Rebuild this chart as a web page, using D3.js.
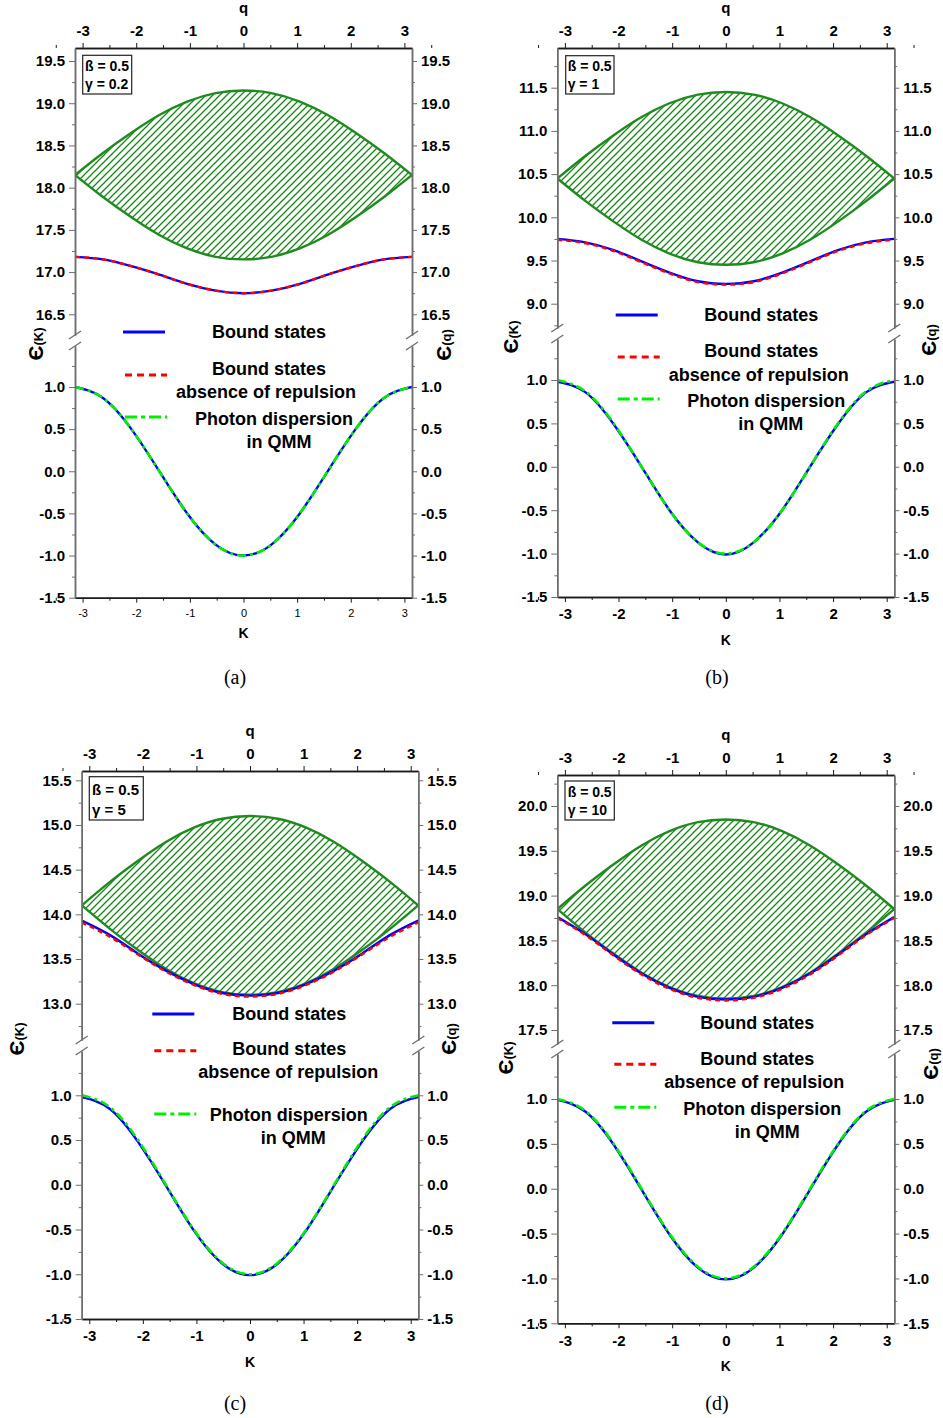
<!DOCTYPE html>
<html>
<head>
<meta charset="utf-8">
<title>Bound states vs QMM photon band</title>
<script src="https://d3js.org/d3.v7.min.js"></script>
<style>
  body { margin: 0; background: #fff; }
  svg text { font-family: Arial, "Liberation Sans", sans-serif; }
</style>
</head>
<body>
<script>
// ---- data ----
const K = [-3.14, -2.62, -2.09, -1.57, -1.05, -0.52, 0, 0.52, 1.05, 1.57, 2.09, 2.62, 3.14];
const xTicks = [-3, -2, -1, 0, 1, 2, 3];
const lowTicks = [-1.5, -1.0, -0.5, 0.0, 0.5, 1.0];
const photon = [1.00, 0.87, 0.50, 0.00, -0.50, -0.87, -1.00, -0.87, -0.50, 0.00, 0.50, 0.87, 1.00];

// (a) gamma = 0.2
const upTicksA = [16.5, 17.0, 17.5, 18.0, 18.5, 19.0, 19.5];
const bandTopA = [18.15, 18.41, 18.65, 18.86, 19.02, 19.12, 19.15, 19.12, 19.02, 18.86, 18.65, 18.41, 18.15];
const bandBotA = [18.15, 17.89, 17.65, 17.44, 17.28, 17.18, 17.15, 17.18, 17.28, 17.44, 17.65, 17.89, 18.15];
const boundA = [17.18, 17.15, 17.07, 16.97, 16.86, 16.78, 16.75, 16.78, 16.86, 16.97, 17.07, 17.15, 17.18];
const noRepA = [17.18, 17.15, 17.07, 16.97, 16.86, 16.78, 16.75, 16.78, 16.86, 16.97, 17.07, 17.15, 17.18];
const boundLowA = [1.00, 0.87, 0.50, 0.00, -0.50, -0.87, -1.00, -0.87, -0.50, 0.00, 0.50, 0.87, 1.00];

// (b) gamma = 1
const upTicksB = [9.0, 9.5, 10.0, 10.5, 11.0, 11.5];
const bandTopB = [10.45, 10.71, 10.95, 11.16, 11.32, 11.42, 11.45, 11.42, 11.32, 11.16, 10.95, 10.71, 10.45];
const bandBotB = [10.45, 10.19, 9.95, 9.74, 9.58, 9.48, 9.45, 9.48, 9.58, 9.74, 9.95, 10.19, 10.45];
const boundB = [9.75, 9.71, 9.62, 9.49, 9.36, 9.26, 9.23, 9.26, 9.36, 9.49, 9.62, 9.71, 9.75];
const noRepB = [9.74, 9.70, 9.61, 9.48, 9.35, 9.25, 9.22, 9.25, 9.35, 9.48, 9.61, 9.70, 9.74];
const boundLowB = [0.98, 0.86, 0.49, 0.00, -0.50, -0.87, -1.01, -0.87, -0.50, 0.00, 0.49, 0.86, 0.98];

// (c) gamma = 5
const upTicksC = [13.0, 13.5, 14.0, 14.5, 15.0, 15.5];
const bandTopC = [14.10, 14.36, 14.60, 14.81, 14.97, 15.07, 15.10, 15.07, 14.97, 14.81, 14.60, 14.36, 14.10];
const bandBotC = [14.10, 13.84, 13.60, 13.39, 13.23, 13.13, 13.10, 13.13, 13.23, 13.39, 13.60, 13.84, 14.10];
const boundC = [13.93, 13.77, 13.56, 13.37, 13.22, 13.12, 13.09, 13.12, 13.22, 13.37, 13.56, 13.77, 13.93];
const noRepC = [13.91, 13.75, 13.55, 13.36, 13.21, 13.11, 13.08, 13.11, 13.21, 13.36, 13.55, 13.75, 13.91];
const boundLowC = [0.98, 0.85, 0.48, -0.01, -0.51, -0.88, -1.01, -0.88, -0.51, -0.01, 0.48, 0.85, 0.98];

// (d) gamma = 10
const upTicksD = [17.5, 18.0, 18.5, 19.0, 19.5, 20.0];
const bandTopD = [18.85, 19.11, 19.35, 19.56, 19.72, 19.82, 19.85, 19.82, 19.72, 19.56, 19.35, 19.11, 18.85];
const bandBotD = [18.85, 18.59, 18.35, 18.14, 17.98, 17.88, 17.85, 17.88, 17.98, 18.14, 18.35, 18.59, 18.85];
const boundD = [18.76, 18.57, 18.34, 18.13, 17.97, 17.87, 17.84, 17.87, 17.97, 18.13, 18.34, 18.57, 18.76];
const noRepD = [18.75, 18.56, 18.33, 18.12, 17.96, 17.86, 17.83, 17.86, 17.96, 18.12, 18.33, 18.56, 18.75];
const boundLowD = [0.99, 0.86, 0.49, -0.01, -0.51, -0.88, -1.01, -0.88, -0.51, -0.01, 0.49, 0.86, 0.99];

// ---- layout per panel ----
const panels = [
  {tag: '(a)', beta: '0.5', gamma: '0.2', x0: 75, x1: 412, top: 48, brk1: 335, brk2: 346,
   up: [[16.5, 19.5], [314.3, 61]], low: [[-1.5, 1.0], [597.7, 387]],
   upTicks: upTicksA, bandTop: bandTopA, bandBot: bandBotA, bound: boundA, noRep: noRepA, boundLow: boundLowA,
   box: [82.7, 55.3, 49, 38.7, 85, 66, 84],
   leg: {x: 123, y: 332, dy: [37, 60, 43, 87, 110, 85], dx: [146, 146, 143, 151, 156]},
   yl: [37, 344, 445, 345], plain: true, cap: [235, 677]},
  {tag: '(b)', beta: '0.5', gamma: '1', x0: 557.3, x1: 894.3, top: 48, brk1: 328, brk2: 339,
   up: [[9.0, 11.5], [303.7, 87.7]], low: [[-1.5, 1.0], [597, 380]],
   upTicks: upTicksB, bandTop: bandTopB, bandBot: bandBotB, bound: boundB, noRep: noRepB, boundLow: boundLowB,
   box: [565.7, 55.7, 48.3, 38.3, 567.7, 66.3, 84.3],
   leg: {x: 615.7, y: 315, dy: [36, 60, 42, 85.7, 109, 84], dx: [145.6, 145.6, 143, 150.6, 155]},
   yl: [512, 337, 930, 340], plain: false, cap: [717, 677]},
  {tag: '(c)', beta: '0.5', gamma: '5', x0: 81.7, x1: 418.3, top: 771, brk1: 1040, brk2: 1051,
   up: [[13.0, 15.5], [1003.7, 780.3]], low: [[-1.5, 1.0], [1319, 1095.3]],
   upTicks: upTicksC, bandTop: bandTopC, bandBot: bandBotC, bound: boundC, noRep: noRepC, boundLow: boundLowC,
   box: [89.3, 776.7, 54, 43.3, 92, 790, 809.3],
   leg: {x: 152.3, y: 1014, dy: [35, 57.7, 36.7, 101, 124, 100], dx: [137, 137, 136, 136.5, 141]},
   yl: [18, 1039, 450, 1039], plain: false, cap: [235, 1403]},
  {tag: '(d)', beta: '0.5', gamma: '10', x0: 557.3, x1: 894.3, top: 775, brk1: 1044, brk2: 1054,
   up: [[17.5, 20.0], [1030, 806]], low: [[-1.5, 1.0], [1323.3, 1099]],
   upTicks: upTicksD, bandTop: bandTopD, bandBot: bandBotD, bound: boundD, noRep: noRepD, boundLow: boundLowD,
   box: [565, 781, 49.3, 39, 567.7, 792, 810],
   leg: {x: 612.3, y: 1022.7, dy: [36.3, 59, 41.6, 86.3, 109, 84.6], dx: [145, 145, 142, 150, 155]},
   yl: [507, 1058, 932, 1064], plain: false, cap: [717, 1403]}
];

const W = 943, H = 1418;
const frameDark = '#1a1a1a', frameGray = '#6e6e6e';
const svg = d3.select('body').append('svg').attr('width', W).attr('height', H);
const defs = svg.append('defs');

const hatch = defs.append('pattern').attr('id', 'hatch')
  .attr('patternUnits', 'userSpaceOnUse').attr('width', 7).attr('height', 7);
hatch.append('path').attr('d', 'M-1,1 L1,-1 M0,7 L7,0 M6,8 L8,6')
  .attr('stroke', '#128a12').attr('stroke-width', 1.3);

const fmtY = d => d.toFixed(1);
const fmtX = d => String(d);

function styleTicks(g, size, weight, color) {
  g.selectAll('text').attr('font-size', size).attr('font-weight', weight).attr('fill', '#000');
  g.selectAll('line').attr('stroke', color);
  g.select('.domain').attr('stroke', color).attr('stroke-width', 1.5);
}

function minorOf(ticks, step) {
  const out = [];
  ticks.forEach(t => out.push(t + step / 2));
  out.push(ticks[0] - step / 2);
  return out;
}

panels.forEach((p, pi) => {
  const g = svg.append('g');
  const x = d3.scaleLinear().domain([-Math.PI, Math.PI]).range([p.x0, p.x1]);
  const bottom = p.low[1][0];

  // segment scales, clipped to the break
  const yUref = d3.scaleLinear().domain(p.up[0]).range(p.up[1]);
  const yU = d3.scaleLinear().domain([yUref.invert(p.brk1), yUref.invert(p.top)]).range([p.brk1, p.top]);
  const yLref = d3.scaleLinear().domain(p.low[0]).range(p.low[1]);
  const yL = d3.scaleLinear().domain([-1.5, yLref.invert(p.brk2)]).range([bottom, p.brk2]);

  defs.append('clipPath').attr('id', 'cu' + pi).append('rect')
    .attr('x', p.x0).attr('y', p.top).attr('width', p.x1 - p.x0).attr('height', p.brk1 - p.top);
  defs.append('clipPath').attr('id', 'cl' + pi).append('rect')
    .attr('x', p.x0).attr('y', p.brk2).attr('width', p.x1 - p.x0).attr('height', bottom - p.brk2);

  // ---- upper segment: photon band + bound states ----
  const gu = g.append('g').attr('clip-path', `url(#cu${pi})`);
  const bandRows = K.map((k, i) => ({k, t: p.bandTop[i], b: p.bandBot[i]}));
  gu.append('path').datum(bandRows)
    .attr('d', d3.area().x(d => x(d.k)).y0(d => yU(d.b)).y1(d => yU(d.t)).curve(d3.curveNatural))
    .attr('fill', 'url(#hatch)');
  [p.bandTop, p.bandBot].forEach(arr => {
    gu.append('path').datum(arr)
      .attr('d', d3.line().x((d, i) => x(K[i])).y(d => yU(d)).curve(d3.curveNatural))
      .attr('fill', 'none').attr('stroke', '#1f8a1f').attr('stroke-width', 2.4);
  });
  gu.append('path').datum(p.bound)
    .attr('d', d3.line().x((d, i) => x(K[i])).y(d => yU(d)).curve(d3.curveNatural))
    .attr('fill', 'none').attr('stroke', '#0000ff').attr('stroke-width', 2.4);
  gu.append('path').datum(p.noRep)
    .attr('d', d3.line().x((d, i) => x(K[i])).y(d => yU(d)).curve(d3.curveNatural))
    .attr('fill', 'none').attr('stroke', '#ff0000').attr('stroke-width', 2.4).attr('stroke-dasharray', '5,4');

  // ---- lower segment: bound states + photon dispersion ----
  const gl = g.append('g').attr('clip-path', `url(#cl${pi})`);
  gl.append('path').datum(p.boundLow)
    .attr('d', d3.line().x((d, i) => x(K[i])).y(d => yL(d)).curve(d3.curveNatural))
    .attr('fill', 'none').attr('stroke', '#0000ff').attr('stroke-width', 2.4);
  gl.append('path').datum(photon)
    .attr('d', d3.line().x((d, i) => x(K[i])).y(d => yL(d)).curve(d3.curveNatural))
    .attr('fill', 'none').attr('stroke', '#00ee00').attr('stroke-width', 2.6).attr('stroke-dasharray', '9,4,3,4');

  // ---- axes ----
  const xMinor = minorOf(xTicks, 1);
  const top = g.append('g').attr('transform', `translate(0,${p.top})`)
    .call(d3.axisTop(x).tickValues(xTicks).tickFormat(fmtX).tickSize(5).tickSizeOuter(0).tickPadding(6.6));
  styleTicks(top, 15, 'bold', frameDark);
  const topMinor = g.append('g').attr('transform', `translate(0,${p.top})`)
    .call(d3.axisTop(x).tickValues(xMinor).tickFormat('').tickSize(3).tickSizeOuter(0));
  styleTicks(topMinor, 10, 'normal', frameDark);

  const bot = g.append('g').attr('transform', `translate(0,${bottom})`)
    .call(d3.axisBottom(x).tickValues(xTicks).tickFormat(fmtX).tickSize(5).tickSizeOuter(0)
      .tickPadding(p.plain ? 6.2 : 6.7));
  styleTicks(bot, p.plain ? 11 : 15, p.plain ? 'normal' : 'bold', frameDark);
  const botMinor = g.append('g').attr('transform', `translate(0,${bottom})`)
    .call(d3.axisBottom(x).tickValues(xMinor).tickFormat('').tickSize(3).tickSizeOuter(0));
  styleTicks(botMinor, 10, 'normal', frameDark);

  const upMinor = minorOf(p.upTicks, 0.5);
  const lowMinor = minorOf(lowTicks, 0.5);
  [[yU, p.upTicks, upMinor], [yL, lowTicks, lowMinor]].forEach(([ys, maj, mnr]) => {
    const inside = v => v >= ys.domain()[0] && v <= ys.domain()[1];
    const l = g.append('g').attr('transform', `translate(${p.x0},0)`)
      .call(d3.axisLeft(ys).tickValues(maj.filter(inside)).tickFormat(fmtY).tickSize(6).tickSizeOuter(0).tickPadding(4));
    styleTicks(l, 15, 'bold', frameGray);
    const lm = g.append('g').attr('transform', `translate(${p.x0},0)`)
      .call(d3.axisLeft(ys).tickValues(mnr.filter(inside)).tickFormat('').tickSize(3).tickSizeOuter(0));
    styleTicks(lm, 10, 'normal', frameGray);
    const r = g.append('g').attr('transform', `translate(${p.x1},0)`)
      .call(d3.axisRight(ys).tickValues(maj.filter(inside)).tickFormat(fmtY).tickSize(5).tickSizeOuter(0).tickPadding(4));
    styleTicks(r, 15, 'bold', frameGray);
    const rm = g.append('g').attr('transform', `translate(${p.x1},0)`)
      .call(d3.axisRight(ys).tickValues(mnr.filter(inside)).tickFormat('').tickSize(3).tickSizeOuter(0));
    styleTicks(rm, 10, 'normal', frameGray);
  });

  // break marks
  [p.x0, p.x1].forEach(ax => {
    [p.brk1, p.brk2].forEach(by => {
      g.append('line').attr('x1', ax - 6).attr('y1', by + 4).attr('x2', ax + 6).attr('y2', by - 4)
        .attr('stroke', frameGray).attr('stroke-width', 1.3);
    });
  });

  // axis titles
  g.append('text').attr('x', (p.x0 + p.x1) / 2).attr('y', p.top - 40).attr('dy', '0.35em')
    .attr('text-anchor', 'middle').attr('font-size', 15).attr('font-weight', 'bold').text('q');
  g.append('text').attr('x', (p.x0 + p.x1) / 2).attr('y', bottom + (p.plain ? 35 : 43)).attr('dy', '0.35em')
    .attr('text-anchor', 'middle').attr('font-size', 14).attr('font-weight', 'bold').text('K');
  [[p.yl[0], p.yl[1], 'K'], [p.yl[2], p.yl[3], 'q']].forEach(([lx, ly, v]) => {
    const t = g.append('text').attr('transform', `translate(${lx},${ly}) rotate(-90)`)
      .attr('text-anchor', 'middle').attr('dy', '0.35em').attr('font-weight', 'bold');
    t.append('tspan').attr('font-size', 21).text('Є');
    t.append('tspan').attr('font-size', 13).text(`(${v})`);
  });

  // parameter box
  const [bx, by, bw, bh, tx, ty1, ty2] = p.box;
  g.append('rect').attr('x', bx).attr('y', by).attr('width', bw).attr('height', bh)
    .attr('fill', '#fff').attr('stroke', '#222').attr('stroke-width', 1.2);
  const bfs = pi === 2 ? 15 : 14;
  g.append('text').attr('x', tx).attr('y', ty1).attr('dy', '0.35em').attr('font-size', bfs)
    .attr('font-weight', 'bold').text(`ß = ${p.beta}`);
  g.append('text').attr('x', tx).attr('y', ty2).attr('dy', '0.35em').attr('font-size', bfs)
    .attr('font-weight', 'bold').text(`γ = ${p.gamma}`);

  // legend
  const L = p.leg;
  const legText = (dx, yy, s) => g.append('text').attr('x', L.x + dx).attr('y', yy).attr('dy', '0.35em')
    .attr('text-anchor', 'middle').attr('font-size', 18).attr('font-weight', 'bold').text(s);
  g.append('line').attr('x1', L.x).attr('x2', L.x + 42).attr('y1', L.y).attr('y2', L.y)
    .attr('stroke', '#0000ff').attr('stroke-width', 3);
  legText(L.dx[0], L.y, 'Bound states');
  g.append('line').attr('x1', L.x + 2).attr('x2', L.x + 44).attr('y1', L.y + L.dy[2]).attr('y2', L.y + L.dy[2])
    .attr('stroke', '#ff0000').attr('stroke-width', 3).attr('stroke-dasharray', '7,5');
  legText(L.dx[1], L.y + L.dy[0], 'Bound states');
  legText(L.dx[2], L.y + L.dy[1], 'absence of repulsion');
  g.append('line').attr('x1', L.x + 2).attr('x2', L.x + 44).attr('y1', L.y + L.dy[5]).attr('y2', L.y + L.dy[5])
    .attr('stroke', '#00ee00').attr('stroke-width', 3).attr('stroke-dasharray', '12,4,4,4');
  legText(L.dx[3], L.y + L.dy[3], 'Photon dispersion');
  legText(L.dx[4], L.y + L.dy[4], 'in QMM');

  // caption
  g.append('text').attr('x', p.cap[0]).attr('y', p.cap[1]).attr('dy', '0.35em')
    .attr('text-anchor', 'middle').attr('font-size', 20)
    .style('font-family', '"Liberation Serif", "DejaVu Serif", serif').text(p.tag);
});
</script>
</body>
</html>
